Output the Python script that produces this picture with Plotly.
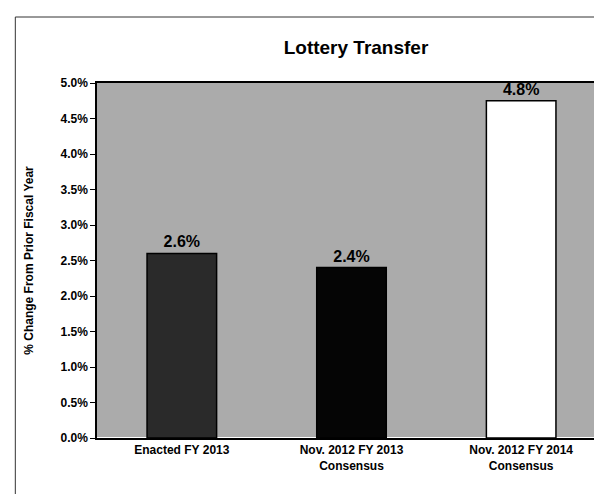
import plotly.graph_objects as go

categories = ["Enacted FY 2013", "Nov. 2012 FY 2013<br>Consensus", "Nov. 2012 FY 2014<br>Consensus"]
values = [2.6, 2.4, 4.75]
bar_colors = ["#2a2a2a", "#050505", "#ffffff"]
y_ticks = [0, 0.5, 1.0, 1.5, 2.0, 2.5, 3.0, 3.5, 4.0, 4.5, 5.0]
y_tick_text = ["<b>%.1f%%</b>" % v for v in y_ticks]
x_tick_text = ["<b>%s</b>" % c.replace("<br>", "</b><br><b>") for c in categories]

fig = go.Figure(go.Bar(
    x=categories, y=values,
    marker=dict(color=bar_colors, line=dict(color="#000", width=1.5)),
    width=0.41,
    texttemplate="<b>%{y:.1f}%</b>", textposition="outside", cliponaxis=False,
    textfont=dict(family="Liberation Sans, Arial", size=16, color="#000"),
))

L, R, T, B = 89, 2, 75, 64
W, H = 602, 494
pw, ph = W - L - R, H - T - B

fig.update_layout(
    width=W, height=H,
    margin=dict(l=L, r=R, t=T, b=B),
    paper_bgcolor="#ffffff", plot_bgcolor="#ababab",
    title=dict(text="<b>Lottery Transfer</b>", x=348 / W, xanchor="center",
               y=1 - 39 / H, yanchor="middle",
               font=dict(family="Liberation Sans, Arial", size=19, color="#000")),
    font=dict(family="Liberation Sans, Arial", color="#000"),
    showlegend=False,
    shapes=[
        dict(type="line", xref="paper", yref="paper",
             x0=(7 - L) / pw, x1=(7 - L) / pw, y0=-(H - 1 - (H - B)) / ph, y1=1 + (T - 9) / ph,
             line=dict(color="#333", width=1)),
        dict(type="line", xref="paper", yref="paper",
             x0=(7 - L) / pw, x1=(W - L) / pw, y0=1 + (T - 9) / ph, y1=1 + (T - 9) / ph,
             line=dict(color="#333", width=1)),
    ],
)
fig.update_xaxes(showline=True, linecolor="#000", linewidth=1.5, mirror=True,
                 tickvals=categories, ticktext=x_tick_text,
                 tickfont=dict(size=12, family="Liberation Sans, Arial"), ticks="")
fig.update_yaxes(range=[0, 5], tickvals=y_ticks, ticktext=y_tick_text,
                 showgrid=False, showline=True, linecolor="#000", linewidth=1.5, mirror=True,
                 ticks="outside", ticklen=5, tickcolor="#000",
                 tickfont=dict(size=12, family="Liberation Sans, Arial"),
                 title=dict(text="<b>% Change From Prior Fiscal Year</b>", font=dict(size=12), standoff=24))

fig.write_html("out.html")
